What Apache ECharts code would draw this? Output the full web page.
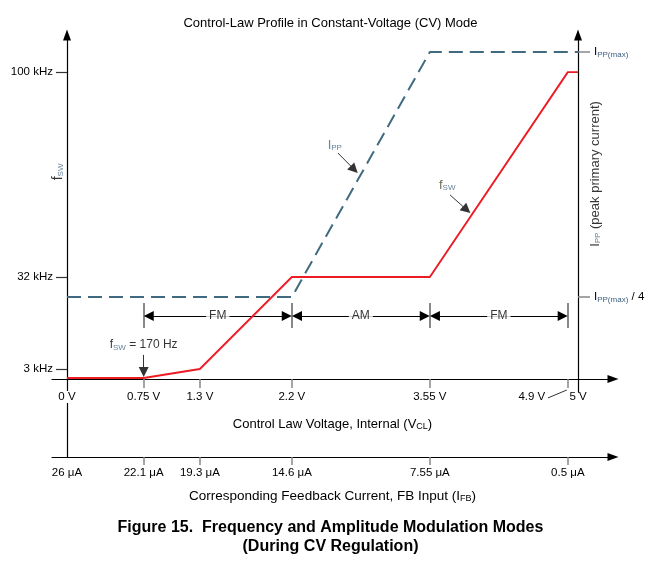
<!DOCTYPE html>
<html><head><meta charset="utf-8">
<script src="https://cdn.jsdelivr.net/npm/echarts@6/dist/echarts.min.js"></script>
<style>html,body{margin:0;padding:0;background:#fff}#c{width:661px;height:564px}</style>
</head><body><div id="c"></div>
<script>
// Control-law voltage breakpoints (V) and labels
const vclTicks = [0, 0.75, 1.3, 2.2, 3.55, 4.9, 5];
const vclLabels = ['0 V', '0.75 V', '1.3 V', '2.2 V', '3.55 V', '4.9 V', '5 V'];
// Corresponding feedback currents
const ifbTicks = [0, 0.75, 1.3, 2.2, 3.55, 4.9];
const ifbLabels = ['26 μA', '22.1 μA', '19.3 μA', '14.6 μA', '7.55 μA', '0.5 μA'];
// Schematic vertical levels (0..100 of the axis height)
const fswTickLevels = [2.9, 29.65, 89.2];
const fswTickLabels = ['3 kHz', '32 kHz', '100 kHz'];
const ippTickLevels = [23.84, 95.06];
const ippTickLabels = ['I{s|PP(max)} / 4', 'I{s|PP(max)}'];
// Curves
const fswV = [0, 0.75, 1.3, 2.2, 3.55, 4.9, 5];
const fswLevel = [0.3, 0.3, 2.9, 29.65, 29.65, 89.2, 89.2];
const ippV = [0, 2.2, 3.55, 5];
const ippLevel = [23.84, 23.84, 95.06, 95.06];
// Modulation modes
const modeBounds = [0.75, 2.2, 3.55, 4.9];
const modeNames = ['FM', 'AM', 'FM'];

const FONT = 'Liberation Sans, Arial, sans-serif';
const subStyle = { fontSize: 8, padding: [5, 0, 0, 0], color: '#3d5f7e', fontFamily: FONT };
const subBlack = { fontSize: 9, padding: [5, 0, 0, 0], color: '#000', fontFamily: FONT };
const ARROW_INSET = 0.05; // half arrow-head length in volts

const chart = echarts.init(document.getElementById('c'), null, { renderer: 'canvas' });

const xCommon = {
  type: 'value', min: -0.1468, max: 5.342,
  splitLine: { show: false },
  axisLine: { onZero: false, symbol: ['none', 'triangle'], symbolSize: [8, 11], lineStyle: { color: '#000', width: 1.2 } },
  nameLocation: 'middle'
};

const option = {
  animation: false,
  textStyle: { fontFamily: FONT },
  title: [
    { text: 'Control-Law Profile in Constant-Voltage (CV) Mode', left: 'center', top: 12,
      textStyle: { fontSize: 13, fontWeight: 'normal', color: '#000', fontFamily: FONT } },
    { text: 'Figure 15.  Frequency and Amplitude Modulation Modes', left: 'center', top: 515,
      textStyle: { fontSize: 16, fontWeight: 'bold', color: '#000', fontFamily: FONT } },
    { text: '(During CV Regulation)', left: 'center', top: 534,
      textStyle: { fontSize: 16, fontWeight: 'bold', color: '#000', fontFamily: FONT } }
  ],
  grid: [
    { left: 52, right: 48, top: 35, bottom: 185 },
    { left: 52, right: 48, top: 379, bottom: 107 }
  ],
  xAxis: [
    Object.assign({}, xCommon, {
      gridIndex: 0, z: 5,
      axisTick: { show: true, customValues: [0.75, 1.3, 2.2, 3.55, 4.9], length: 9, lineStyle: { color: '#888', width: 1.5 } },
      axisLabel: {
        customValues: vclTicks, margin: 12, fontSize: 11.5, color: '#000', fontFamily: FONT,
        formatter: v => {
          const i = vclTicks.findIndex(t => Math.abs(t - v) < 1e-6);
          if (i < 0) return '';
          if (v === 4.9) return '{l|' + vclLabels[i] + '}';
          if (v === 0) return '{z|' + vclLabels[i] + '}';
          return vclLabels[i];
        },
        rich: {
          l: { padding: [0, 72, 0, 0], fontSize: 11.5, color: '#000', fontFamily: FONT },
          z: { backgroundColor: '#fff', fontSize: 11.5, color: '#000', fontFamily: FONT }
        }
      },
      name: 'Control Law Voltage, Internal (V{s|CL})', nameGap: 38,
      nameTextStyle: { fontSize: 13, color: '#000', fontFamily: FONT, rich: { s: subBlack } }
    }),
    Object.assign({}, xCommon, {
      gridIndex: 1,
      axisTick: { show: true, customValues: [0.75, 1.3, 2.2, 3.55, 4.9], length: 8, lineStyle: { color: '#888', width: 1.5 } },
      axisLabel: {
        customValues: ifbTicks, margin: 10, fontSize: 11.5, color: '#000', fontFamily: FONT,
        formatter: v => {
          const i = ifbTicks.findIndex(t => Math.abs(t - v) < 1e-6);
          return i < 0 ? '' : ifbLabels[i];
        }
      },
      name: 'Corresponding Feedback Current, FB Input (I{s|FB})', nameGap: 32,
      nameTextStyle: { fontSize: 13.5, color: '#000', fontFamily: FONT, rich: { s: subBlack } }
    })
  ],
  yAxis: [
    {
      gridIndex: 0, type: 'value', min: 0, max: 100, position: 'left', offset: -15,
      splitLine: { show: false },
      axisLine: { onZero: false, symbol: ['none', 'triangle'], symbolSize: [8, 11], lineStyle: { color: '#000', width: 1.2 } },
      axisTick: { show: true, customValues: fswTickLevels, length: 11, lineStyle: { color: '#333', width: 1.2 } },
      axisLabel: {
        customValues: fswTickLevels, margin: 14, fontSize: 11.5, color: '#000', fontFamily: FONT,
        formatter: v => {
          const i = fswTickLevels.findIndex(t => Math.abs(t - v) < 1e-6);
          return i < 0 ? '' : fswTickLabels[i];
        }
      }
    },
    {
      gridIndex: 0, type: 'value', min: 0, max: 100, position: 'right', offset: -35,
      splitLine: { show: false },
      axisLine: { onZero: false, symbol: ['none', 'triangle'], symbolSize: [8, 11], lineStyle: { color: '#000', width: 1.2 } },
      axisTick: { show: true, customValues: ippTickLevels, length: 12, lineStyle: { color: '#888', width: 1.5 } },
      axisLabel: {
        customValues: ippTickLevels, margin: 16, fontSize: 11.5, color: '#000', fontFamily: FONT,
        formatter: v => {
          const i = ippTickLevels.findIndex(t => Math.abs(t - v) < 1e-6);
          return i < 0 ? '' : ippTickLabels[i];
        },
        rich: { s: subStyle }
      }
    },
    {
      gridIndex: 1, type: 'value', min: 0, max: 1, position: 'left', offset: -15,
      splitLine: { show: false },
      axisLine: { onZero: false, lineStyle: { color: '#000', width: 1.2 } },
      axisTick: { show: false }, axisLabel: { show: false }
    }
  ],
  series: [
    {
      name: 'IPP', type: 'line', xAxisIndex: 0, yAxisIndex: 0, showSymbol: false, silent: true,
      data: ippV.map((v, i) => [v, ippLevel[i]]),
      lineStyle: { color: '#3f6a80', width: 2, type: [14, 7] }
    },
    {
      name: 'fSW', type: 'line', xAxisIndex: 0, yAxisIndex: 0, showSymbol: false, silent: true,
      data: fswV.map((v, i) => [v, fswLevel[i]]),
      lineStyle: { color: '#ec1c24', width: 1.9 }
    },
    {
      name: 'bounds', type: 'lines', coordinateSystem: 'cartesian2d', xAxisIndex: 0, yAxisIndex: 0, clip: false,
      symbol: ['none', 'none'],
      lineStyle: { color: '#888', width: 2, opacity: 1 },
      data: modeBounds.map(b => ({ coords: [[b, 14.8], [b, 22.1]] }))
    },
    {
      name: 'modes', type: 'lines', coordinateSystem: 'cartesian2d', xAxisIndex: 0, yAxisIndex: 0, clip: false,
      symbol: ['triangle', 'triangle'], symbolSize: 10,
      lineStyle: { color: '#000', width: 1, opacity: 1 },
      data: modeNames.map((n, i) => ({ name: n, coords: [[modeBounds[i] + ARROW_INSET, 18.3], [modeBounds[i + 1] - ARROW_INSET, 18.3]] }))
    },
    {
      name: 'pointers', type: 'lines', coordinateSystem: 'cartesian2d', xAxisIndex: 0, yAxisIndex: 0, clip: false,
      symbol: ['none', 'triangle'], symbolSize: 10,
      lineStyle: { color: '#333', width: 1, opacity: 1 },
      data: [
        { coords: [[2.65, 65.7], [2.81, 60.9]] },
        { coords: [[3.748, 53.5], [3.91, 49.2]] },
        { coords: [[0.75, 7.0], [0.75, 2.0]] }
      ]
    },
    {
      name: 'leaders', type: 'lines', coordinateSystem: 'cartesian2d', xAxisIndex: 0, yAxisIndex: 0, clip: false,
      symbol: ['none', 'none'],
      lineStyle: { color: '#333', width: 1, opacity: 1 },
      data: [
        { coords: [[4.706, -5.5], [4.89, -3.2]] },
        { coords: [[5, 0], [5, -4]], lineStyle: { color: '#000', width: 1.2 } }
      ]
    },
    {
      name: 'modeLabels', type: 'scatter', xAxisIndex: 0, yAxisIndex: 0, symbolSize: 0, clip: false, silent: true, z: 4,
      label: { show: true, position: 'inside', color: '#000', fontSize: 12, fontFamily: FONT,
        backgroundColor: '#fff', padding: [1, 3], formatter: p => p.name },
      data: modeNames.map((n, i) => ({ name: n, value: [(modeBounds[i] + modeBounds[i + 1]) / 2, 18.3] }))
    },
    {
      name: 'notes', type: 'scatter', xAxisIndex: 0, yAxisIndex: 0, symbolSize: 0, clip: false, silent: true,
      label: { show: true, position: 'inside', color: '#000', fontSize: 12, fontFamily: FONT,
        formatter: p => p.data.text,
        rich: {
          s: subStyle,
          m: { color: '#000', fontSize: 12, fontFamily: FONT },
          big: { color: '#000', fontSize: 14, fontFamily: FONT },
          ax: { color: '#000', fontSize: 13, fontFamily: FONT },
          b: { color: '#3f6a80', fontSize: 13, fontFamily: FONT },
          f: { color: '#4a3e2c', fontSize: 13, fontFamily: FONT }
        } },
      data: [
        { value: [2.62, 68.0], text: '{b|I}{s|PP}' },
        { value: [3.72, 56.4], text: '{f|f}{s|SW}' },
        { value: [0.75, 9.9], text: '{m|f}{s|SW}{m| = 170 Hz}' },
        { value: [-0.088, 60.2], text: '{big|f}{s|SW}', label: { rotate: 90 } },
        { value: [5.166, 59.6], text: '{ax|I}{s|PP}{ax| (peak primary current)}', label: { rotate: 90 } }
      ]
    }
  ]
};
chart.setOption(option);
</script></body></html>
